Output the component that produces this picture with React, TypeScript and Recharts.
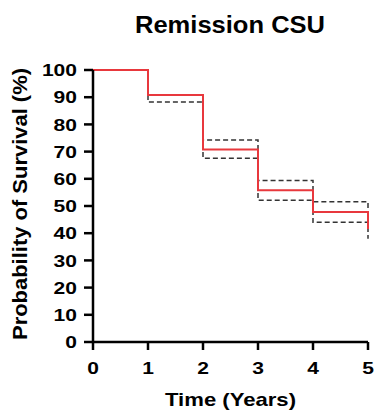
import { LineChart, Line, XAxis, YAxis, Label } from "recharts"

// Kaplan-Meier estimate with 95% CI
const years = [0, 1, 2, 3, 4, 5]
const survival = [100, 90.8, 70.8, 55.8, 47.8, 41.5]
const upperCI = [100, 90.8, 74.3, 59.4, 51.6, 44.5]
const lowerCI = [100, 88.2, 67.6, 52.1, 44.0, 38.0]
const yTicks = [0, 10, 20, 30, 40, 50, 60, 70, 80, 90, 100]

const data = years.map((t, i) => ({
  t,
  survival: survival[i],
  upper: upperCI[i],
  lower: lowerCI[i],
}))

const font = "'Liberation Sans', Arial, sans-serif"
const bold = { fontFamily: font, fontWeight: 700, fill: "#000" }

// the source figure is a bit wide, so digits get stretched a little
const DigitTick = ({ x, y, payload, anchor, dy }: any) => {
  const s = String(payload.value)
  return (
    <text
      x={x}
      y={y}
      dy={dy}
      textAnchor={anchor}
      textLength={s.length * 11.7}
      lengthAdjust="spacingAndGlyphs"
      style={{ ...bold, fontSize: 17 }}
    >
      {s}
    </text>
  )
}

export default function App() {
  return (
    <div style={{ position: "absolute", left: 0, top: 0, width: 374, height: 414, background: "#fff" }}>
      <LineChart width={374} height={414} data={data} margin={{ top: 70, right: 6, left: 0, bottom: 30 }}>
        <XAxis
          dataKey="t"
          type="number"
          domain={[0, 5]}
          ticks={years}
          tick={(p: any) => <DigitTick {...p} anchor="middle" dy="0.72em" />}
          tickSize={8}
          tickMargin={12}
          height={42}
          axisLine={{ stroke: "#000", strokeWidth: 2.5 }}
          tickLine={{ stroke: "#000", strokeWidth: 2.5 }}
        >
          <Label
            content={({ viewBox }: any) => (
              <text
                x={viewBox.x + viewBox.width / 2}
                y={406}
                textAnchor="middle"
                textLength={131}
                lengthAdjust="spacingAndGlyphs"
                style={{ ...bold, fontSize: 19 }}
              >
                Time (Years)
              </text>
            )}
          />
        </XAxis>
        <YAxis
          type="number"
          domain={[0, 100]}
          ticks={yTicks}
          tick={(p: any) => <DigitTick {...p} anchor="end" dy="0.36em" />}
          tickSize={9}
          tickMargin={7}
          width={93}
          interval={0}
          axisLine={{ stroke: "#000", strokeWidth: 2.5 }}
          tickLine={{ stroke: "#000", strokeWidth: 2.5 }}
        >
          <Label
            content={({ viewBox }: any) => {
              const cy = viewBox.y + viewBox.height / 2 - 2
              return (
                <text
                  x={20}
                  y={cy}
                  transform={`rotate(-90, 20, ${cy})`}
                  textAnchor="middle"
                  dominantBaseline="central"
                  textLength={272}
                  lengthAdjust="spacingAndGlyphs"
                  style={{ ...bold, fontSize: 20 }}
                >
                  Probability of Survival (%)
                </text>
              )
            }}
          />
        </YAxis>
        <Line
          type="stepAfter"
          dataKey="upper"
          stroke="#333"
          strokeWidth={1.5}
          strokeDasharray="5 3"
          dot={false}
          isAnimationActive={false}
        />
        <Line
          type="stepAfter"
          dataKey="lower"
          stroke="#333"
          strokeWidth={1.5}
          strokeDasharray="5 3"
          dot={false}
          isAnimationActive={false}
        />
        <Line
          type="stepAfter"
          dataKey="survival"
          stroke="#e8383d"
          strokeWidth={2}
          dot={false}
          isAnimationActive={false}
        />
      </LineChart>
      <svg width={374} height={50} style={{ position: "absolute", left: 0, top: 0 }}>
        <text
          x={230}
          y={33}
          textAnchor="middle"
          textLength={190}
          lengthAdjust="spacingAndGlyphs"
          style={{ ...bold, fontSize: 23 }}
        >
          Remission CSU
        </text>
      </svg>
    </div>
  )
}
